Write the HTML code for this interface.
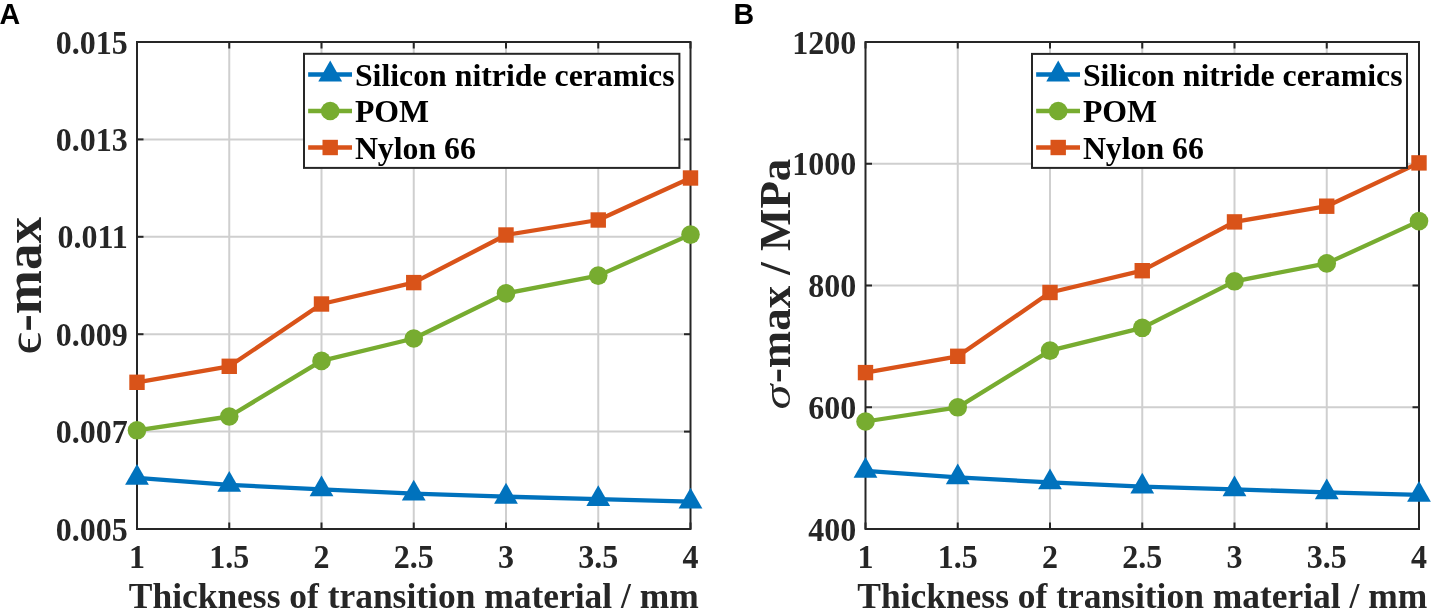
<!DOCTYPE html>
<html><head><meta charset="utf-8"><style>
html,body{margin:0;padding:0;background:#fff;}
body{width:1432px;height:611px;overflow:hidden;}
svg{display:block;will-change:transform;}
text{font-family:"Liberation Serif",serif;font-weight:bold;}
.tk{font-size:32.0px;fill:#262626;}
.xl{font-size:35.45px;fill:#262626;}
.lg{font-size:31.8px;fill:#000;}
.yl{fill:#262626;}
.gk{font-style:normal;font-weight:normal;}
.gk2{font-style:italic;font-weight:normal;}
.let{font-family:"Liberation Sans",sans-serif;font-weight:bold;font-size:28.6px;fill:#000;}
</style></head><body>
<svg width="1432" height="611" viewBox="0 0 1432 611">
<line x1="229.25" y1="42.0" x2="229.25" y2="529.0" stroke="#cfcfcf" stroke-width="2.0"/>
<line x1="321.50" y1="42.0" x2="321.50" y2="529.0" stroke="#cfcfcf" stroke-width="2.0"/>
<line x1="413.75" y1="42.0" x2="413.75" y2="529.0" stroke="#cfcfcf" stroke-width="2.0"/>
<line x1="506.00" y1="42.0" x2="506.00" y2="529.0" stroke="#cfcfcf" stroke-width="2.0"/>
<line x1="598.25" y1="42.0" x2="598.25" y2="529.0" stroke="#cfcfcf" stroke-width="2.0"/>
<line x1="137.0" y1="139.40" x2="690.5" y2="139.40" stroke="#cfcfcf" stroke-width="2.0"/>
<line x1="137.0" y1="236.80" x2="690.5" y2="236.80" stroke="#cfcfcf" stroke-width="2.0"/>
<line x1="137.0" y1="334.20" x2="690.5" y2="334.20" stroke="#cfcfcf" stroke-width="2.0"/>
<line x1="137.0" y1="431.60" x2="690.5" y2="431.60" stroke="#cfcfcf" stroke-width="2.0"/>
<line x1="137.00" y1="529.0" x2="137.00" y2="522.5" stroke="#262626" stroke-width="2.0"/>
<line x1="137.00" y1="42.0" x2="137.00" y2="48.5" stroke="#262626" stroke-width="2.0"/>
<line x1="229.25" y1="529.0" x2="229.25" y2="522.5" stroke="#262626" stroke-width="2.0"/>
<line x1="229.25" y1="42.0" x2="229.25" y2="48.5" stroke="#262626" stroke-width="2.0"/>
<line x1="321.50" y1="529.0" x2="321.50" y2="522.5" stroke="#262626" stroke-width="2.0"/>
<line x1="321.50" y1="42.0" x2="321.50" y2="48.5" stroke="#262626" stroke-width="2.0"/>
<line x1="413.75" y1="529.0" x2="413.75" y2="522.5" stroke="#262626" stroke-width="2.0"/>
<line x1="413.75" y1="42.0" x2="413.75" y2="48.5" stroke="#262626" stroke-width="2.0"/>
<line x1="506.00" y1="529.0" x2="506.00" y2="522.5" stroke="#262626" stroke-width="2.0"/>
<line x1="506.00" y1="42.0" x2="506.00" y2="48.5" stroke="#262626" stroke-width="2.0"/>
<line x1="598.25" y1="529.0" x2="598.25" y2="522.5" stroke="#262626" stroke-width="2.0"/>
<line x1="598.25" y1="42.0" x2="598.25" y2="48.5" stroke="#262626" stroke-width="2.0"/>
<line x1="690.50" y1="529.0" x2="690.50" y2="522.5" stroke="#262626" stroke-width="2.0"/>
<line x1="690.50" y1="42.0" x2="690.50" y2="48.5" stroke="#262626" stroke-width="2.0"/>
<line x1="137.0" y1="42.00" x2="143.5" y2="42.00" stroke="#262626" stroke-width="2.0"/>
<line x1="690.5" y1="42.00" x2="684.0" y2="42.00" stroke="#262626" stroke-width="2.0"/>
<line x1="137.0" y1="139.40" x2="143.5" y2="139.40" stroke="#262626" stroke-width="2.0"/>
<line x1="690.5" y1="139.40" x2="684.0" y2="139.40" stroke="#262626" stroke-width="2.0"/>
<line x1="137.0" y1="236.80" x2="143.5" y2="236.80" stroke="#262626" stroke-width="2.0"/>
<line x1="690.5" y1="236.80" x2="684.0" y2="236.80" stroke="#262626" stroke-width="2.0"/>
<line x1="137.0" y1="334.20" x2="143.5" y2="334.20" stroke="#262626" stroke-width="2.0"/>
<line x1="690.5" y1="334.20" x2="684.0" y2="334.20" stroke="#262626" stroke-width="2.0"/>
<line x1="137.0" y1="431.60" x2="143.5" y2="431.60" stroke="#262626" stroke-width="2.0"/>
<line x1="690.5" y1="431.60" x2="684.0" y2="431.60" stroke="#262626" stroke-width="2.0"/>
<line x1="137.0" y1="529.00" x2="143.5" y2="529.00" stroke="#262626" stroke-width="2.0"/>
<line x1="690.5" y1="529.00" x2="684.0" y2="529.00" stroke="#262626" stroke-width="2.0"/>
<rect x="137.0" y="42.0" width="553.5" height="487.0" fill="none" stroke="#262626" stroke-width="2.0"/>
<text transform="translate(127.70,53.50) scale(1,1.05)" text-anchor="end" class="tk">0.015</text>
<text transform="translate(127.70,150.90) scale(1,1.05)" text-anchor="end" class="tk">0.013</text>
<text transform="translate(127.70,248.30) scale(1,1.05)" text-anchor="end" class="tk">0.011</text>
<text transform="translate(127.70,345.70) scale(1,1.05)" text-anchor="end" class="tk">0.009</text>
<text transform="translate(127.70,443.10) scale(1,1.05)" text-anchor="end" class="tk">0.007</text>
<text transform="translate(127.70,540.50) scale(1,1.05)" text-anchor="end" class="tk">0.005</text>
<text transform="translate(137.00,567.7) scale(1,1.05)" text-anchor="middle" class="tk">1</text>
<text transform="translate(229.25,567.7) scale(1,1.05)" text-anchor="middle" class="tk">1.5</text>
<text transform="translate(321.50,567.7) scale(1,1.05)" text-anchor="middle" class="tk">2</text>
<text transform="translate(413.75,567.7) scale(1,1.05)" text-anchor="middle" class="tk">2.5</text>
<text transform="translate(506.00,567.7) scale(1,1.05)" text-anchor="middle" class="tk">3</text>
<text transform="translate(598.25,567.7) scale(1,1.05)" text-anchor="middle" class="tk">3.5</text>
<text transform="translate(690.50,567.7) scale(1,1.05)" text-anchor="middle" class="tk">4</text>
<text x="413.75" y="607.5" text-anchor="middle" class="xl">Thickness of transition material / mm</text>
<polyline points="137.00,477.90 229.25,484.80 321.50,489.40 413.75,493.60 506.00,496.70 598.25,499.10 690.50,501.60" fill="none" stroke="#0072BD" stroke-width="4.3" stroke-linejoin="round"/>
<path d="M137.00 464.00L148.90 484.85L125.10 484.85Z" fill="#0072BD"/>
<path d="M229.25 470.90L241.15 491.75L217.35 491.75Z" fill="#0072BD"/>
<path d="M321.50 475.50L333.40 496.35L309.60 496.35Z" fill="#0072BD"/>
<path d="M413.75 479.70L425.65 500.55L401.85 500.55Z" fill="#0072BD"/>
<path d="M506.00 482.80L517.90 503.65L494.10 503.65Z" fill="#0072BD"/>
<path d="M598.25 485.20L610.15 506.05L586.35 506.05Z" fill="#0072BD"/>
<path d="M690.50 487.70L702.40 508.55L678.60 508.55Z" fill="#0072BD"/>
<polyline points="137.00,430.30 229.25,416.50 321.50,360.90 413.75,338.50 506.00,293.40 598.25,275.60 690.50,234.60" fill="none" stroke="#77AC30" stroke-width="4.3" stroke-linejoin="round"/>
<circle cx="137.00" cy="430.30" r="9.3" fill="#77AC30"/>
<circle cx="229.25" cy="416.50" r="9.3" fill="#77AC30"/>
<circle cx="321.50" cy="360.90" r="9.3" fill="#77AC30"/>
<circle cx="413.75" cy="338.50" r="9.3" fill="#77AC30"/>
<circle cx="506.00" cy="293.40" r="9.3" fill="#77AC30"/>
<circle cx="598.25" cy="275.60" r="9.3" fill="#77AC30"/>
<circle cx="690.50" cy="234.60" r="9.3" fill="#77AC30"/>
<polyline points="137.00,382.30 229.25,366.30 321.50,304.00 413.75,282.60 506.00,235.00 598.25,220.00 690.50,178.00" fill="none" stroke="#D95319" stroke-width="4.3" stroke-linejoin="round"/>
<rect x="129.30" y="374.60" width="15.40" height="15.40" fill="#D95319"/>
<rect x="221.55" y="358.60" width="15.40" height="15.40" fill="#D95319"/>
<rect x="313.80" y="296.30" width="15.40" height="15.40" fill="#D95319"/>
<rect x="406.05" y="274.90" width="15.40" height="15.40" fill="#D95319"/>
<rect x="498.30" y="227.30" width="15.40" height="15.40" fill="#D95319"/>
<rect x="590.55" y="212.30" width="15.40" height="15.40" fill="#D95319"/>
<rect x="682.80" y="170.30" width="15.40" height="15.40" fill="#D95319"/>
<rect x="304.0" y="53.8" width="375.40" height="114.10" fill="#fff" stroke="#262626" stroke-width="2"/>
<line x1="308.15" y1="74.5" x2="352.00" y2="74.5" stroke="#0072BD" stroke-width="4.3"/>
<path d="M330.20 60.60L342.10 81.45L318.30 81.45Z" fill="#0072BD"/>
<text x="354.90" y="85.70" class="lg">Silicon nitride ceramics</text>
<line x1="308.15" y1="111.0" x2="352.00" y2="111.0" stroke="#77AC30" stroke-width="4.3"/>
<circle cx="330.20" cy="111.00" r="9.3" fill="#77AC30"/>
<text x="354.90" y="122.20" class="lg">POM</text>
<line x1="308.15" y1="147.5" x2="352.00" y2="147.5" stroke="#D95319" stroke-width="4.3"/>
<rect x="322.50" y="139.80" width="15.40" height="15.40" fill="#D95319"/>
<text x="354.90" y="158.70" class="lg">Nylon 66</text>
<text transform="translate(40.5,354.4) rotate(-90) scale(1.13,1)" class="yl gk" style="font-size:49.0px">&#x3F5;</text>
<text transform="translate(40.5,331.84) rotate(-90)" class="yl" style="font-size:53px">-max</text>
<text x="-0.5" y="24" class="let">A</text>
<line x1="957.75" y1="42.0" x2="957.75" y2="529.0" stroke="#cfcfcf" stroke-width="2.0"/>
<line x1="1050.00" y1="42.0" x2="1050.00" y2="529.0" stroke="#cfcfcf" stroke-width="2.0"/>
<line x1="1142.25" y1="42.0" x2="1142.25" y2="529.0" stroke="#cfcfcf" stroke-width="2.0"/>
<line x1="1234.50" y1="42.0" x2="1234.50" y2="529.0" stroke="#cfcfcf" stroke-width="2.0"/>
<line x1="1326.75" y1="42.0" x2="1326.75" y2="529.0" stroke="#cfcfcf" stroke-width="2.0"/>
<line x1="865.5" y1="163.75" x2="1419.0" y2="163.75" stroke="#cfcfcf" stroke-width="2.0"/>
<line x1="865.5" y1="285.50" x2="1419.0" y2="285.50" stroke="#cfcfcf" stroke-width="2.0"/>
<line x1="865.5" y1="407.25" x2="1419.0" y2="407.25" stroke="#cfcfcf" stroke-width="2.0"/>
<line x1="865.50" y1="529.0" x2="865.50" y2="522.5" stroke="#262626" stroke-width="2.0"/>
<line x1="865.50" y1="42.0" x2="865.50" y2="48.5" stroke="#262626" stroke-width="2.0"/>
<line x1="957.75" y1="529.0" x2="957.75" y2="522.5" stroke="#262626" stroke-width="2.0"/>
<line x1="957.75" y1="42.0" x2="957.75" y2="48.5" stroke="#262626" stroke-width="2.0"/>
<line x1="1050.00" y1="529.0" x2="1050.00" y2="522.5" stroke="#262626" stroke-width="2.0"/>
<line x1="1050.00" y1="42.0" x2="1050.00" y2="48.5" stroke="#262626" stroke-width="2.0"/>
<line x1="1142.25" y1="529.0" x2="1142.25" y2="522.5" stroke="#262626" stroke-width="2.0"/>
<line x1="1142.25" y1="42.0" x2="1142.25" y2="48.5" stroke="#262626" stroke-width="2.0"/>
<line x1="1234.50" y1="529.0" x2="1234.50" y2="522.5" stroke="#262626" stroke-width="2.0"/>
<line x1="1234.50" y1="42.0" x2="1234.50" y2="48.5" stroke="#262626" stroke-width="2.0"/>
<line x1="1326.75" y1="529.0" x2="1326.75" y2="522.5" stroke="#262626" stroke-width="2.0"/>
<line x1="1326.75" y1="42.0" x2="1326.75" y2="48.5" stroke="#262626" stroke-width="2.0"/>
<line x1="1419.00" y1="529.0" x2="1419.00" y2="522.5" stroke="#262626" stroke-width="2.0"/>
<line x1="1419.00" y1="42.0" x2="1419.00" y2="48.5" stroke="#262626" stroke-width="2.0"/>
<line x1="865.5" y1="42.00" x2="872.0" y2="42.00" stroke="#262626" stroke-width="2.0"/>
<line x1="1419.0" y1="42.00" x2="1412.5" y2="42.00" stroke="#262626" stroke-width="2.0"/>
<line x1="865.5" y1="163.75" x2="872.0" y2="163.75" stroke="#262626" stroke-width="2.0"/>
<line x1="1419.0" y1="163.75" x2="1412.5" y2="163.75" stroke="#262626" stroke-width="2.0"/>
<line x1="865.5" y1="285.50" x2="872.0" y2="285.50" stroke="#262626" stroke-width="2.0"/>
<line x1="1419.0" y1="285.50" x2="1412.5" y2="285.50" stroke="#262626" stroke-width="2.0"/>
<line x1="865.5" y1="407.25" x2="872.0" y2="407.25" stroke="#262626" stroke-width="2.0"/>
<line x1="1419.0" y1="407.25" x2="1412.5" y2="407.25" stroke="#262626" stroke-width="2.0"/>
<line x1="865.5" y1="529.00" x2="872.0" y2="529.00" stroke="#262626" stroke-width="2.0"/>
<line x1="1419.0" y1="529.00" x2="1412.5" y2="529.00" stroke="#262626" stroke-width="2.0"/>
<rect x="865.5" y="42.0" width="553.5" height="487.0" fill="none" stroke="#262626" stroke-width="2.0"/>
<text transform="translate(856.20,53.50) scale(1,1.05)" text-anchor="end" class="tk">1200</text>
<text transform="translate(856.20,175.25) scale(1,1.05)" text-anchor="end" class="tk">1000</text>
<text transform="translate(856.20,297.00) scale(1,1.05)" text-anchor="end" class="tk">800</text>
<text transform="translate(856.20,418.75) scale(1,1.05)" text-anchor="end" class="tk">600</text>
<text transform="translate(856.20,540.50) scale(1,1.05)" text-anchor="end" class="tk">400</text>
<text transform="translate(865.50,567.7) scale(1,1.05)" text-anchor="middle" class="tk">1</text>
<text transform="translate(957.75,567.7) scale(1,1.05)" text-anchor="middle" class="tk">1.5</text>
<text transform="translate(1050.00,567.7) scale(1,1.05)" text-anchor="middle" class="tk">2</text>
<text transform="translate(1142.25,567.7) scale(1,1.05)" text-anchor="middle" class="tk">2.5</text>
<text transform="translate(1234.50,567.7) scale(1,1.05)" text-anchor="middle" class="tk">3</text>
<text transform="translate(1326.75,567.7) scale(1,1.05)" text-anchor="middle" class="tk">3.5</text>
<text transform="translate(1419.00,567.7) scale(1,1.05)" text-anchor="middle" class="tk">4</text>
<text x="1142.25" y="607.5" text-anchor="middle" class="xl">Thickness of transition material / mm</text>
<polyline points="865.50,470.80 957.75,477.40 1050.00,482.40 1142.25,486.60 1234.50,489.40 1326.75,492.30 1419.00,494.90" fill="none" stroke="#0072BD" stroke-width="4.3" stroke-linejoin="round"/>
<path d="M865.50 456.90L877.40 477.75L853.60 477.75Z" fill="#0072BD"/>
<path d="M957.75 463.50L969.65 484.35L945.85 484.35Z" fill="#0072BD"/>
<path d="M1050.00 468.50L1061.90 489.35L1038.10 489.35Z" fill="#0072BD"/>
<path d="M1142.25 472.70L1154.15 493.55L1130.35 493.55Z" fill="#0072BD"/>
<path d="M1234.50 475.50L1246.40 496.35L1222.60 496.35Z" fill="#0072BD"/>
<path d="M1326.75 478.40L1338.65 499.25L1314.85 499.25Z" fill="#0072BD"/>
<path d="M1419.00 481.00L1430.90 501.85L1407.10 501.85Z" fill="#0072BD"/>
<polyline points="865.50,421.50 957.75,407.30 1050.00,350.60 1142.25,327.80 1234.50,281.30 1326.75,263.40 1419.00,221.10" fill="none" stroke="#77AC30" stroke-width="4.3" stroke-linejoin="round"/>
<circle cx="865.50" cy="421.50" r="9.3" fill="#77AC30"/>
<circle cx="957.75" cy="407.30" r="9.3" fill="#77AC30"/>
<circle cx="1050.00" cy="350.60" r="9.3" fill="#77AC30"/>
<circle cx="1142.25" cy="327.80" r="9.3" fill="#77AC30"/>
<circle cx="1234.50" cy="281.30" r="9.3" fill="#77AC30"/>
<circle cx="1326.75" cy="263.40" r="9.3" fill="#77AC30"/>
<circle cx="1419.00" cy="221.10" r="9.3" fill="#77AC30"/>
<polyline points="865.50,372.60 957.75,356.30 1050.00,292.50 1142.25,270.70 1234.50,221.90 1326.75,206.20 1419.00,162.90" fill="none" stroke="#D95319" stroke-width="4.3" stroke-linejoin="round"/>
<rect x="857.80" y="364.90" width="15.40" height="15.40" fill="#D95319"/>
<rect x="950.05" y="348.60" width="15.40" height="15.40" fill="#D95319"/>
<rect x="1042.30" y="284.80" width="15.40" height="15.40" fill="#D95319"/>
<rect x="1134.55" y="263.00" width="15.40" height="15.40" fill="#D95319"/>
<rect x="1226.80" y="214.20" width="15.40" height="15.40" fill="#D95319"/>
<rect x="1319.05" y="198.50" width="15.40" height="15.40" fill="#D95319"/>
<rect x="1411.30" y="155.20" width="15.40" height="15.40" fill="#D95319"/>
<rect x="1032.0" y="53.9" width="375.00" height="114.00" fill="#fff" stroke="#262626" stroke-width="2"/>
<line x1="1036.15" y1="74.5" x2="1080.00" y2="74.5" stroke="#0072BD" stroke-width="4.3"/>
<path d="M1058.20 60.60L1070.10 81.45L1046.30 81.45Z" fill="#0072BD"/>
<text x="1082.90" y="85.70" class="lg">Silicon nitride ceramics</text>
<line x1="1036.15" y1="111.0" x2="1080.00" y2="111.0" stroke="#77AC30" stroke-width="4.3"/>
<circle cx="1058.20" cy="111.00" r="9.3" fill="#77AC30"/>
<text x="1082.90" y="122.20" class="lg">POM</text>
<line x1="1036.15" y1="147.5" x2="1080.00" y2="147.5" stroke="#D95319" stroke-width="4.3"/>
<rect x="1050.50" y="139.80" width="15.40" height="15.40" fill="#D95319"/>
<text x="1082.90" y="158.70" class="lg">Nylon 66</text>
<text transform="translate(790.3,409.5) rotate(-90) scale(1.12,0.85)" class="yl gk2" style="font-size:45.0px">&#x3C3;</text>
<text transform="translate(790.3,383.1) rotate(-90)" class="yl" style="font-size:44.9px">-max / MPa</text>
<text x="733.5" y="24" class="let">B</text>
</svg>
</body></html>
